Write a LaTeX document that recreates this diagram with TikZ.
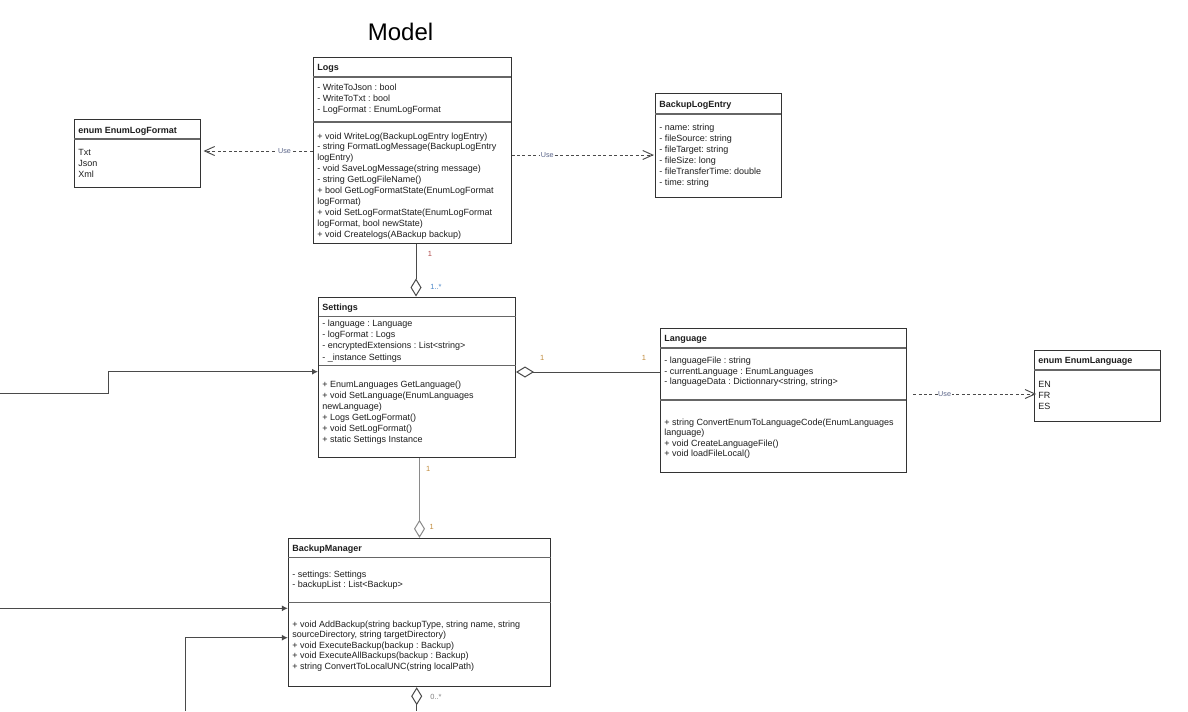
\documentclass[tikz,border=0pt]{standalone}
\usepackage{fontspec}
\setmainfont{Liberation Sans}
\usetikzlibrary{arrows.meta,fit}

\definecolor{boxc}{HTML}{333333}
\definecolor{sepc}{HTML}{666666}
\definecolor{textc}{HTML}{1E1E1E}
\definecolor{linkc}{HTML}{4A4A4A}
\definecolor{lightlink}{HTML}{8A8A8A}
\definecolor{usec}{HTML}{5A6488}
\definecolor{multred}{HTML}{B04848}
\definecolor{multblue}{HTML}{4A86C8}
\definecolor{multorange}{HTML}{C08A3A}

\tikzset{
  umlbox/.style={draw=boxc, line width=0.75pt, inner sep=0pt, fill=none},
  umlsep/.style={draw=sepc, line width=0.9pt},
  umltext/.style={anchor=base west, inner sep=0pt, text=textc,
                  font=\fontsize{6.75pt}{8pt}\selectfont\frenchspacing},
  umltitle/.style={umltext, font=\fontsize{6.75pt}{8pt}\selectfont\bfseries},
  uselink/.style={draw=linkc, line width=0.7pt, dash pattern=on 2.25pt off 1.8pt,
                  -{Straight Barb[length=7.5pt,width=6.75pt]}},
  uselabel/.style={fill=white, inner sep=0.5pt, text=usec,
                   font=\fontsize{5.4pt}{6pt}\selectfont},
  aggr/.style={draw=linkc, line width=0.75pt,
               {Diamond[open,length=13.5pt,width=8.25pt]}-},
  assoc/.style={draw=linkc, line width=0.75pt, -{Latex[length=4.5pt,width=4.5pt]}},
  mult/.style={inner sep=0pt, font=\fontsize{5.6pt}{6pt}\selectfont}
}

% one node per text row of a class compartment
% #1 name prefix, #2 x, #3 first baseline, #4 row step, #5 rows
\newcommand\umlrows[5]{%
  \foreach \row [count=\k] in {#5} {%
    \node[umltext] (#1-\k) at (#2,{#3+(\k-1)*#4}) {\row};}}

\begin{document}
\frenchspacing
\begin{tikzpicture}[x=0.75pt,y=-0.75pt]
\useasboundingbox[fill=white] (0,0) rectangle (1188,711);

\node[anchor=base, inner sep=0pt, text=black,
      font=\fontsize{18pt}{20pt}\selectfont] (title) at (400.5,40) {Model};

% ---------- Logs ----------
\node[umlbox, fit={(313,57) (511,243)}] (logs) {};
\draw[umlsep] (313,77) -- (511,77);
\draw[umlsep] (313,122) -- (511,122);
\node[umltitle] (logs-name) at (317,70) {Logs};
\umlrows{logsa}{317}{90}{11}{- WriteToJson : bool, - WriteToTxt : bool, - LogFormat : EnumLogFormat}
\umlrows{logsm}{317}{139}{10.95}{%
  + void WriteLog(BackupLogEntry logEntry),
  - string FormatLogMessage(BackupLogEntry,
  logEntry),
  - void SaveLogMessage(string message),
  - string GetLogFileName(),
  + bool GetLogFormatState(EnumLogFormat,
  logFormat),
  + void SetLogFormatState(EnumLogFormat,
  {logFormat, bool newState)},
  + void Createlogs(ABackup backup)}

% ---------- enum EnumLogFormat ----------
\node[umlbox, fit={(74,119) (200,187)}] (enumlog) {};
\draw[umlsep] (74,139) -- (200,139);
\node[umltitle] (enumlog-name) at (78,133) {enum EnumLogFormat};
\umlrows{enumloga}{78}{155.5}{10.8}{Txt, Json, Xml}

% ---------- BackupLogEntry ----------
\node[umlbox, fit={(655,93) (781,197)}] (entry) {};
\draw[umlsep] (655,114) -- (781,114);
\node[umltitle] (entry-name) at (659,107.5) {BackupLogEntry};
\umlrows{entrya}{659}{130.7}{11}{%
  - name: string, - fileSource: string, - fileTarget: string,
  - fileSize: long, - fileTransferTime: double, - time: string}

% ---------- Settings ----------
\node[umlbox, fit={(318.5,297) (515.5,457)}] (settings) {};
\draw[umlsep] (318.5,316.7) -- (515.5,316.7);
\draw[umlsep] (318.5,365.7) -- (515.5,365.7);
\node[umltitle] (settings-name) at (322,310) {Settings};
\umlrows{settingsa}{322}{326.7}{11.1}{%
  - language : Language, - logFormat : Logs,
  - encryptedExtensions : List<string>, - \_instance Settings}
\umlrows{settingsm}{322}{387}{11.1}{%
  + EnumLanguages GetLanguage(),
  + void SetLanguage(EnumLanguages,
  newLanguage),
  + Logs GetLogFormat(),
  + void SetLogFormat(),
  + static Settings Instance}

% ---------- Language ----------
\node[umlbox, fit={(660,328) (906,472)}] (language) {};
\draw[umlsep] (660,348) -- (906,348);
\draw[umlsep] (660,400) -- (906,400);
\node[umltitle] (language-name) at (664,341) {Language};
\umlrows{languagea}{664}{363.3}{10.8}{%
  - languageFile : string,
  - currentLanguage : EnumLanguages,
  {- languageData : Dictionnary<string, string>}}
\umlrows{languagem}{664}{425}{10.6}{%
  + string ConvertEnumToLanguageCode(EnumLanguages,
  language),
  + void CreateLanguageFile(),
  + void loadFileLocal()}

% ---------- enum EnumLanguage ----------
\node[umlbox, fit={(1034,350) (1160,421)}] (enumlang) {};
\draw[umlsep] (1034,370) -- (1160,370);
\node[umltitle] (enumlang-name) at (1038,363.3) {enum EnumLanguage};
\umlrows{enumlanga}{1038}{387.7}{11}{EN, FR, ES}

% ---------- BackupManager ----------
\node[umlbox, fit={(288.3,538.3) (550.7,686.7)}] (manager) {};
\draw[umlsep] (288.3,557.7) -- (550.7,557.7);
\draw[umlsep] (288.3,602.3) -- (550.7,602.3);
\node[umltitle] (manager-name) at (292,551.7) {BackupManager};
\umlrows{managera}{292}{577.3}{10.5}{- settings: Settings, - backupList : List<Backup>}
\umlrows{managerm}{292}{627}{10.5}{%
  {+ void AddBackup(string backupType, string name, string},
  {sourceDirectory, string targetDirectory)},
  + void ExecuteBackup(backup : Backup),
  + void ExecuteAllBackups(backup : Backup),
  + string ConvertToLocalUNC(string localPath)}

% ---------- dependencies ----------
\draw[uselink, shorten >=2.25pt] (logs.west |- 0,151) -- (enumlog.east |- 0,151)
  node[uselabel, pos=0.25] (use1) {Use};
\draw[uselink, shorten >=0.5pt] (logs.east |- 0,155) -- (entry.west |- 0,155)
  node[uselabel, pos=0.25] (use2) {Use};
\draw[uselink, shorten <=5pt, shorten >=-2pt] (language.east |- 0,394) -- (enumlang.west |- 0,394)
  node[uselabel, pos=0.3] (use3) {Use};

% ---------- aggregations ----------
\draw[aggr] (settings.north -| 416,0) -- (logs.south -| 416,0);
\node[mult, text=multred] (m-logs) at (430,254) {1};
\node[mult, text=multblue] (m-settings-logs) at (436,287) {1..*};

\draw[aggr] (settings.east |- 0,372) -- (language.west |- 0,372);
\node[mult, text=multorange] (m-settings-lang) at (542.3,358.3) {1};
\node[mult, text=multorange] (m-lang) at (644,358.3) {1};

\draw[aggr, draw=lightlink] (manager.north -| 419.5,0) -- (settings.south -| 419.5,0);
\node[mult, text=multorange] (m-settings) at (428.3,469) {1};
\node[mult, text=multorange] (m-manager) at (431.7,526.7) {1};

\coordinate (down) at (416.7,711);
\draw[aggr] (manager.south -| down) -- (down);
\node[mult, text=gray] (m-backups) at (436,697) {0..*};

% ---------- incoming associations ----------
\coordinate (in1) at (0,393.3);
\coordinate (in2) at (0,608.3);
\coordinate (in3) at (185.7,711);
\draw[assoc] (in1) -- (108.7,393.3) -- (108.7,371.7) -- (settings.west |- 0,371.7);
\draw[assoc] (in2) -- (manager.west |- in2);
\draw[assoc] (in3) |- (manager.west |- 0,637.7);

\end{tikzpicture}
\end{document}
